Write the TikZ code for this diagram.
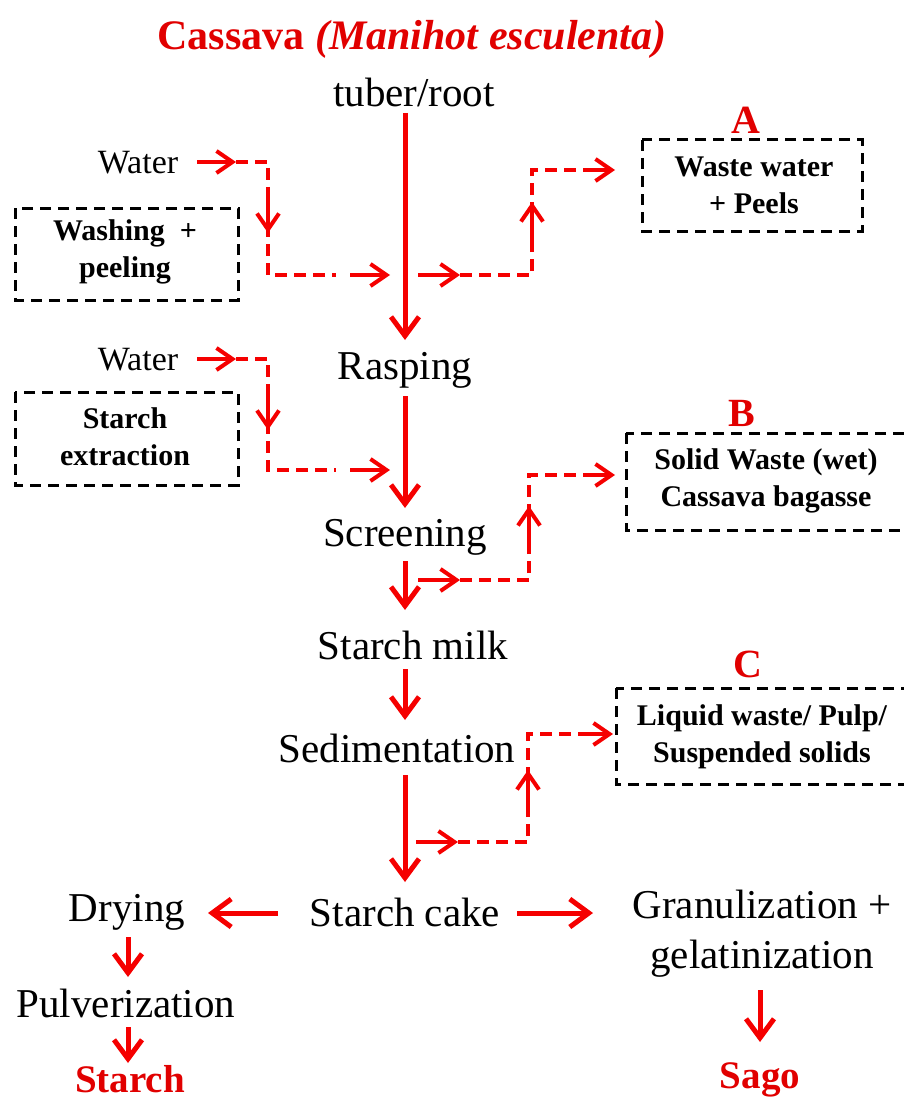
\documentclass[tikz,border=0pt]{standalone}
\usepackage{fontspec}
\setmainfont{Liberation Serif}
\usetikzlibrary{arrows.meta}
\definecolor{flow}{RGB}{245,0,0}
\definecolor{titlered}{RGB}{225,0,0}
\tikzset{
  stage/.style={inner sep=0pt, font=\fontsize{41}{50}\selectfont, align=center},
  water/.style={inner sep=0pt, font=\fontsize{34}{36}\selectfont},
  boxtext/.style={inner sep=0pt, font=\bfseries\fontsize{30}{37}\selectfont, align=center},
  letter/.style={inner sep=0pt, text=titlered, font=\bfseries\fontsize{40}{40}\selectfont},
  product/.style={inner sep=0pt, text=titlered, font=\bfseries\fontsize{39}{40}\selectfont},
  wastebox/.style={draw=black, line width=3pt, dash pattern=on 11pt off 7pt},
  mainarr/.style={draw=flow, line width=5pt, -{Straight Barb[length=19pt, width=28pt, line width=5pt]}},
  shortarr/.style={draw=flow, line width=4pt, -{Straight Barb[length=16pt, width=22pt, line width=4pt]}},
  dashline/.style={draw=flow, line width=4pt, dash pattern=on 12pt off 7pt},
}
\begin{document}
\begin{tikzpicture}[x=1pt,y=-1pt]
\useasboundingbox (0,0) rectangle (904,1102);
\fill[white] (0,0) rectangle (904,1102);

% title
\node[inner sep=0pt, anchor=base, text=titlered, font=\bfseries\fontsize{42}{44}\selectfont] (title) at (412,50) {Cassava \textit{(Manihot esculenta)}};

% main column
\node[stage] (tuber) at (414,92) {tuber/root};
\node[stage] (rasp) at (405,370) {Rasping};
\node[stage] (screen) at (405,537) {Screening};
\node[stage] (milk) at (413,645) {Starch milk};
\node[stage] (sedi) at (397,748) {Sedimentation};
\node[stage] (cake) at (405,912) {Starch cake};
\node[stage] (dry) at (127,912) {Drying};
\node[stage] (pulv) at (126,1003) {Pulverization};
\node[stage] (gran) at (762,934) {Granulization +\\gelatinization};
\node[product, anchor=base] (starch) at (130,1092) {Starch};
\node[product, anchor=base] (sago) at (760,1088) {Sago};

\coordinate (m1a) at (405,113); \coordinate (m1b) at (405,340);
\coordinate (m2a) at (405,396); \coordinate (m2b) at (405,508);
\coordinate (m3a) at (405,561); \coordinate (m3b) at (405,610);
\coordinate (m4a) at (405,669); \coordinate (m4b) at (405,720);
\coordinate (m5a) at (405,775); \coordinate (m5b) at (405,882);
\draw[mainarr] (m1a) -- (m1b);
\draw[mainarr] (m2a) -- (m2b);
\draw[mainarr] (m3a) -- (m3b);
\draw[mainarr] (m4a) -- (m4b);
\draw[mainarr] (m5a) -- (m5b);

\coordinate (cl) at (278,913); \coordinate (dl) at (208,913);
\coordinate (cr) at (517,913); \coordinate (gr) at (593,913);
\draw[mainarr] (cl) -- (dl);
\draw[mainarr] (cr) -- (gr);
\coordinate (d1) at (128,937); \coordinate (d2) at (128,977);
\coordinate (p1) at (128,1027); \coordinate (p2) at (128,1063);
\coordinate (g1) at (760,990); \coordinate (g2) at (760,1042);
\draw[mainarr] (d1) -- (d2);
\draw[mainarr] (p1) -- (p2);
\draw[mainarr] (g1) -- (g2);

% left inputs
\node[water] (w1) at (138,163) {Water};
\node[water] (w2) at (138,360) {Water};
\draw[wastebox] (15,208) rectangle (238,300);
\node[boxtext] (wash) at (125,252) {Washing \ +\\peeling};
\draw[wastebox] (15,392) rectangle (238,485);
\node[boxtext] (extr) at (125,437) {Starch\\extraction};

% water 1 flow
\coordinate (w1a) at (197,162); \coordinate (w1b) at (236,162);
\coordinate (w1c) at (268,162); \coordinate (w1d) at (268,275);
\coordinate (w1e) at (336,275);
\coordinate (w1f) at (268,188); \coordinate (w1g) at (268,233);
\coordinate (w1h) at (350,275); \coordinate (w1i) at (390,275);
\draw[dashline] (w1b) -- (w1c) -- (w1d) -- (w1e);
\draw[shortarr] (w1a) -- (w1b);
\draw[shortarr] (w1f) -- (w1g);
\draw[shortarr] (w1h) -- (w1i);

% water 2 flow
\coordinate (w2a) at (197,359); \coordinate (w2b) at (236,359);
\coordinate (w2c) at (268,359); \coordinate (w2d) at (268,470);
\coordinate (w2e) at (336,470);
\coordinate (w2f) at (268,385); \coordinate (w2g) at (268,430);
\coordinate (w2h) at (350,470); \coordinate (w2i) at (390,470);
\draw[dashline] (w2b) -- (w2c) -- (w2d) -- (w2e);
\draw[shortarr] (w2a) -- (w2b);
\draw[shortarr] (w2f) -- (w2g);
\draw[shortarr] (w2h) -- (w2i);

% waste A
\node[letter] (la) at (746,120) {A};
\draw[wastebox] (642,140) rectangle (862,231);
\node[boxtext] (boxa) at (754,185) {Waste water\\+ Peels};
\coordinate (a1) at (418,275); \coordinate (a2) at (460,275);
\coordinate (a3) at (532,275); \coordinate (a4) at (532,170);
\coordinate (a5) at (585,170); \coordinate (a6) at (615,170);
\coordinate (a7) at (532,245); \coordinate (a8) at (532,202);
\draw[dashline] (a2) -- (a3) -- (a4) -- (a5);
\draw[shortarr] (a1) -- (a2);
\draw[shortarr] (a7) -- (a8);
\draw[shortarr] (a5) -- (a6);

% waste B
\node[letter] (lb) at (742,413) {B};
\draw[wastebox] (626,433) rectangle (920,530);
\node[boxtext] (boxb) at (766,481) {Solid Waste (wet)\\Cassava bagasse};
\coordinate (b1) at (418,580); \coordinate (b2) at (460,580);
\coordinate (b3) at (529,580); \coordinate (b4) at (529,475);
\coordinate (b5) at (585,475); \coordinate (b6) at (615,475);
\coordinate (b7) at (529,548); \coordinate (b8) at (529,506);
\draw[dashline] (b2) -- (b3) -- (b4) -- (b5);
\draw[shortarr] (b1) -- (b2);
\draw[shortarr] (b7) -- (b8);
\draw[shortarr] (b5) -- (b6);

% waste C
\node[letter] (lc) at (748,664) {C};
\draw[wastebox] (616,688) rectangle (920,784);
\node[boxtext] (boxc) at (762,737) {Liquid waste/ Pulp/\\Suspended solids};
\coordinate (c1) at (416,842); \coordinate (c2) at (458,842);
\coordinate (c3) at (528,842); \coordinate (c4) at (528,734);
\coordinate (c5) at (585,734); \coordinate (c6) at (613,734);
\coordinate (c7) at (528,812); \coordinate (c8) at (528,770);
\draw[dashline] (c2) -- (c3) -- (c4) -- (c5);
\draw[shortarr] (c1) -- (c2);
\draw[shortarr] (c7) -- (c8);
\draw[shortarr] (c5) -- (c6);
\end{tikzpicture}
\end{document}
